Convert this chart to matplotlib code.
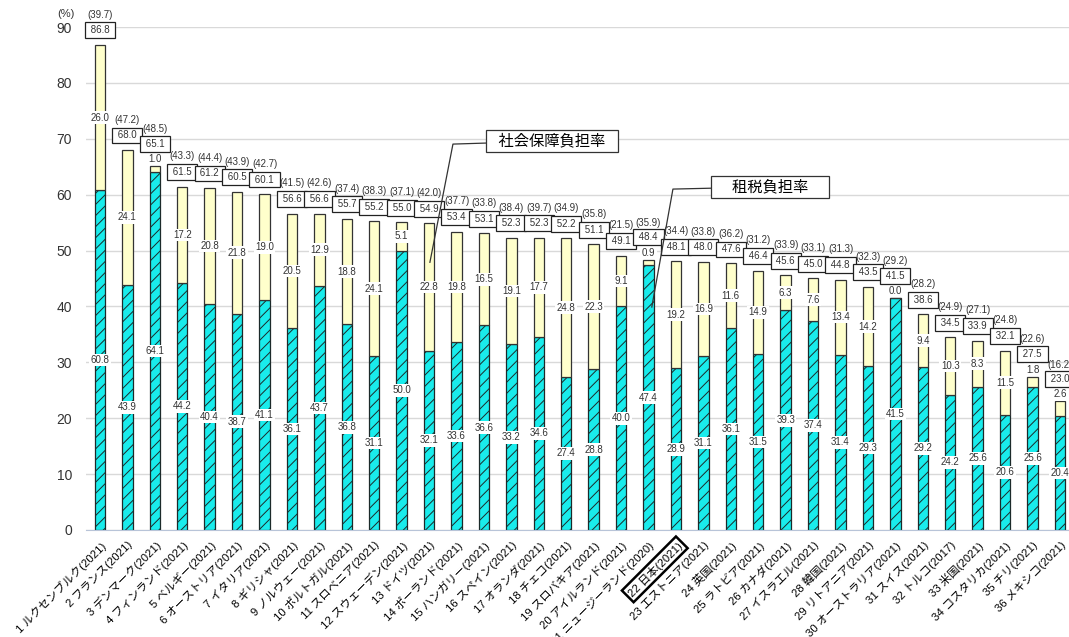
import matplotlib
matplotlib.use('Agg')
import matplotlib.pyplot as plt
import numpy as np

plt.rcParams['font.family'] = ['Liberation Sans', 'Noto Sans CJK JP']
plt.rcParams['hatch.linewidth'] = 0.7

countries = ['1 ルクセンブルク(2021)', '2 フランス(2021)', '3 デンマーク(2021)',
             '4 フィンランド(2021)', '5 ベルギー(2021)', '6 オーストリア(2021)',
             '7 イタリア(2021)', '8 ギリシャ(2021)', '9 ノルウェー(2021)',
             '10 ポルトガル(2021)', '11 スロベニア(2021)', '12 スウェーデン(2021)',
             '13 ドイツ(2021)', '14 ポーランド(2021)', '15 ハンガリー(2021)',
             '16 スペイン(2021)', '17 オランダ(2021)', '18 チェコ(2021)',
             '19 スロバキア(2021)', '20 アイルランド(2021)', '21 ニュージーランド(2020)',
             '22 日本(2021)', '23 エストニア(2021)', '24 英国(2021)',
             '25 ラトビア(2021)', '26 カナダ(2021)', '27 イスラエル(2021)',
             '28 韓国(2021)', '29 リトアニア(2021)', '30 オーストラリア(2021)',
             '31 スイス(2021)', '32 トルコ(2017)', '33 米国(2021)',
             '34 コスタリカ(2021)', '35 チリ(2021)', '36 メキシコ(2021)']

# 租税負担率
tax = [60.8, 43.9, 64.1, 44.2, 40.4, 38.7, 41.1, 36.1, 43.7, 36.8, 31.1, 50.0,
       32.1, 33.6, 36.6, 33.2, 34.6, 27.4, 28.8, 40.0, 47.4, 28.9, 31.1, 36.1,
       31.5, 39.3, 37.4, 31.4, 29.3, 41.5, 29.2, 24.2, 25.6, 20.6, 25.6, 20.4]
# 社会保障負担率
social = [26.0, 24.1, 1.0, 17.2, 20.8, 21.8, 19.0, 20.5, 12.9, 18.8, 24.1, 5.1,
          22.8, 19.8, 16.5, 19.1, 17.7, 24.8, 22.3, 9.1, 0.9, 19.2, 16.9, 11.6,
          14.9, 6.3, 7.6, 13.4, 14.2, 0.0, 9.4, 10.3, 8.3, 11.5, 1.8, 2.6]
# 国民負担率
total = [86.8, 68.0, 65.1, 61.5, 61.2, 60.5, 60.1, 56.6, 56.6, 55.7, 55.2, 55.0,
         54.9, 53.4, 53.1, 52.3, 52.3, 52.2, 51.1, 49.1, 48.4, 48.1, 48.0, 47.6,
         46.4, 45.6, 45.0, 44.8, 43.5, 41.5, 38.6, 34.5, 33.9, 32.1, 27.5, 23.0]
# 括弧内の値
paren = [39.7, 47.2, 48.5, 43.3, 44.4, 43.9, 42.7, 41.5, 42.6, 37.4, 38.3, 37.1,
         42.0, 37.7, 33.8, 38.4, 39.7, 34.9, 35.8, 21.5, 35.9, 34.4, 33.8, 36.2,
         31.2, 33.9, 33.1, 31.3, 32.3, 29.2, 28.2, 24.9, 27.1, 24.8, 22.6, 16.2]

x = np.arange(len(countries))
tax = np.array(tax)
social = np.array(social)

fig = plt.figure(figsize=(10.69, 6.37), dpi=100)
ax = fig.add_axes([0.0804, 0.168, 0.9196, 0.7896])

w = 0.38
ax.bar(x, tax, w, color='#19ECEC', edgecolor='#1c2a2a', linewidth=0.9,
       hatch='///', zorder=3)
ax.bar(x, social, w, bottom=tax, color='#FFFFCC', edgecolor='#333333',
       linewidth=0.9, zorder=3)

lab_box = dict(facecolor='white', edgecolor='none', pad=1.0)
for i in x:
    ax.text(i, tax[i] / 2, f'{tax[i]:.1f}', ha='center', va='center',
            fontsize=7, color='#333333', bbox=lab_box, zorder=4)
    small = social[i] < 3
    if small:
        ys = tax[i] + social[i] + 1.3
        yt = total[i] + 4.0
        yp = total[i] + 6.6
    else:
        ys = tax[i] + social[i] / 2
        yt = total[i] + 2.6
        yp = total[i] + 5.4
    ax.text(i, ys, f'{social[i]:.1f}', ha='center', va='center',
            fontsize=7, color='#333333', bbox=lab_box, zorder=4)
    ax.text(i, yt, f' {total[i]:.1f} ', ha='center', va='center',
            fontsize=7, color='#333333', zorder=5, clip_on=False,
            bbox=dict(facecolor='white', edgecolor='#222222', linewidth=0.9,
                      boxstyle='square,pad=0.3'))
    ax.text(i, yp, f'({paren[i]:.1f})', ha='center', va='center',
            fontsize=7, color='#333333', zorder=5, clip_on=False)

# 引き出し線付きの説明ボックス
ax.plot([16.48, 12.87, 12.03], [69.6, 69.05, 47.9], color='#333333', lw=0.9,
        zorder=6)
ax.text(16.48, 69.6, '  社会保障負担率  ', ha='center', va='center', fontsize=11,
        zorder=7, bbox=dict(facecolor='white', edgecolor='#333333',
                            linewidth=0.9, boxstyle='square,pad=0.25'))
ax.plot([24.43, 20.89, 20.12], [61.4, 61.0, 39.9], color='#333333', lw=0.9,
        zorder=6)
ax.text(24.43, 61.4, '    租税負担率    ', ha='center', va='center', fontsize=11,
        zorder=7, bbox=dict(facecolor='white', edgecolor='#333333',
                            linewidth=0.9, boxstyle='square,pad=0.25'))

ax.set_xlim(-0.51, 35.33)
ax.set_ylim(0, 90)
ax.set_yticks(range(0, 91, 10))
ax.tick_params(axis='y', length=0, labelsize=10, pad=10, labelcolor='#333333')
ax.tick_params(axis='x', length=0, pad=7)
ax.set_xticks(x)
ax.set_xticklabels(countries, rotation=45, ha='right', rotation_mode='anchor',
                   fontsize=8.2)
for t in ax.get_xticklabels():
    if t.get_text().startswith('22 '):
        t.set_bbox(dict(facecolor='none', edgecolor='black', linewidth=1.8,
                        boxstyle='square,pad=0.2'))

ax.grid(axis='y', color='#d9d9d9', linewidth=1, zorder=0)
for s in ['left', 'right', 'top']:
    ax.spines[s].set_visible(False)
ax.spines['bottom'].set_color('#b8c4d8')
ax.spines['bottom'].set_zorder(4)

fig.text(57 / 1069, 1 - 14 / 637, '(%)', fontsize=8, va='center',
         color='#333333')

fig.savefig('out.png', dpi=100)
